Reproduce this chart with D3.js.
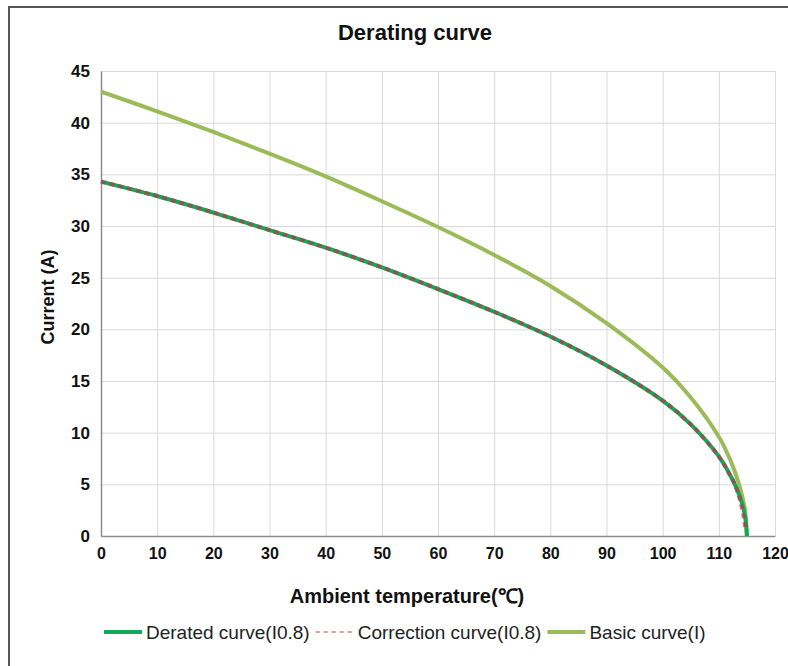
<!DOCTYPE html>
<html>
<head>
<meta charset="utf-8">
<script src="https://cdn.jsdelivr.net/npm/d3@7"></script>
<style>
  body { margin: 0; background: #fff; }
  text { font-family: Arial, "Liberation Sans", sans-serif; }
</style>
</head>
<body>
<div id="chart"></div>
<script>
// Data
var xTicks = [0, 10, 20, 30, 40, 50, 60, 70, 80, 90, 100, 110, 120];
var yTicks = [0, 5, 10, 15, 20, 25, 30, 35, 40, 45];

var basicTemp = [0, 10, 20, 30, 40, 50, 60, 70, 80, 90, 100, 105, 110, 112, 113, 114, 114.6, 115];
var basicCurrent = [43.0, 41.1, 39.1, 37.0, 34.8, 32.4, 29.9, 27.2, 24.2, 20.6, 16.3, 13.4, 9.6, 7.4, 6.0, 4.2, 2.7, 0];

var deratedTemp = [0, 10, 20, 30, 40, 50, 60, 70, 80, 90, 100, 105, 110, 112, 113, 114, 114.7, 115];
var deratedCurrent = [34.3, 32.9, 31.3, 29.6, 27.9, 26.0, 23.9, 21.7, 19.3, 16.5, 13.1, 10.8, 7.7, 5.9, 4.8, 3.4, 1.8, 0];

var correctionTemp = [0, 10, 20, 30, 40, 50, 60, 70, 80, 90, 100, 105, 110, 112, 112.6, 113.5, 114.1, 114.5, 114.7];
var correctionCurrent = [34.3, 32.9, 31.3, 29.6, 27.9, 26.0, 23.9, 21.7, 19.3, 16.5, 13.1, 10.8, 7.7, 5.9, 5.3, 4.0, 2.7, 1.6, 0.8];

var seriesNames = ["Derated curve(I0.8)", "Correction curve(I0.8)", "Basic curve(I)"];

var svgWidth = 788;
var svgHeight = 666;
var margin = { top: 71, right: 13, bottom: 130, left: 101 };
var width = svgWidth - margin.left - margin.right;
var height = svgHeight - margin.top - margin.bottom;

var svg = d3.select("#chart")
  .append("svg")
  .attr("width", svgWidth)
  .attr("height", svgHeight);

// outer frame
svg.append("rect")
  .attr("x", 9)
  .attr("y", 7)
  .attr("width", 820)
  .attr("height", 700)
  .attr("fill", "none")
  .attr("stroke", "#555")
  .attr("stroke-width", 2);

var chartGroup = svg.append("g")
  .attr("transform", `translate(${margin.left}, ${margin.top})`);

// scales
var xScale = d3.scaleLinear().domain([0, 120]).range([0, width]);
var yScale = d3.scaleLinear().domain([0, 45]).range([height, 0]);

// grid lines
chartGroup.append("g")
  .call(d3.axisLeft(yScale).tickValues(yTicks).tickSize(-width).tickFormat(""))
  .call(g => g.select(".domain").remove())
  .call(g => g.selectAll("line").attr("stroke", "#d9d9d9"));
chartGroup.append("g")
  .attr("transform", `translate(0, ${height})`)
  .call(d3.axisBottom(xScale).tickValues(xTicks).tickSize(-height).tickFormat(""))
  .call(g => g.select(".domain").remove())
  .call(g => g.selectAll("line").attr("stroke", "#d9d9d9"));

// axes
var bottomAxis = d3.axisBottom(xScale).tickValues(xTicks).tickSize(0).tickPadding(12);
var leftAxis = d3.axisLeft(yScale).tickValues(yTicks).tickSize(0).tickPadding(11);

chartGroup.append("g")
  .attr("transform", `translate(0, ${height})`)
  .call(bottomAxis)
  .call(g => g.select(".domain").attr("stroke", "#8c8c8c").attr("stroke-width", 1.5))
  .call(g => g.selectAll("text")
    .attr("font-size", "16px").attr("font-weight", "bold").attr("fill", "#111")
    .attr("font-family", "Arial, 'Liberation Sans', sans-serif"));

chartGroup.append("g")
  .call(leftAxis)
  .call(g => g.select(".domain").attr("stroke", "#8c8c8c").attr("stroke-width", 1.5))
  .call(g => g.selectAll("text")
    .attr("font-size", "17px").attr("font-weight", "bold").attr("fill", "#111")
    .attr("font-family", "Arial, 'Liberation Sans', sans-serif"));

// lines
var line = d3.line()
  .x(d => xScale(d[0]))
  .y(d => yScale(d[1]))
  .curve(d3.curveCatmullRom.alpha(0.5));

var basicData = d3.zip(basicTemp, basicCurrent);
var deratedData = d3.zip(deratedTemp, deratedCurrent);
var correctionData = d3.zip(correctionTemp, correctionCurrent);

chartGroup.append("path")
  .datum(basicData)
  .attr("d", line)
  .attr("fill", "none")
  .attr("stroke", "#9bbb59")
  .attr("stroke-width", 4);

chartGroup.append("path")
  .datum(deratedData)
  .attr("d", line)
  .attr("fill", "none")
  .attr("stroke", "#12a85a")
  .attr("stroke-width", 4);

chartGroup.append("path")
  .datum(correctionData)
  .attr("d", line)
  .attr("fill", "none")
  .attr("stroke", "#b03c46")
  .attr("stroke-width", 4)
  .attr("stroke-opacity", 0.7)
  .attr("stroke-dasharray", "5,4");

// title and axis labels
svg.append("text")
  .attr("x", 415)
  .attr("y", 40)
  .attr("text-anchor", "middle")
  .attr("font-size", "22px")
  .attr("font-weight", "bold")
  .attr("fill", "#111")
  .text("Derating curve");

svg.append("text")
  .attr("x", 407)
  .attr("y", 603)
  .attr("text-anchor", "middle")
  .attr("font-size", "20px")
  .attr("font-weight", "bold")
  .attr("fill", "#111")
  .text("Ambient temperature(℃)");

svg.append("text")
  .attr("transform", "translate(54, 297) rotate(-90)")
  .attr("text-anchor", "middle")
  .attr("font-size", "18px")
  .attr("font-weight", "bold")
  .attr("fill", "#111")
  .text("Current (A)");

// legend
var legendColors = ["#12a85a", "#d9a0a0", "#9bbb59"];
var legendDash = [null, "4,4", null];
var legend = svg.append("g").attr("transform", "translate(104, 632)");
var lx = 0;
seriesNames.forEach(function(name, i) {
  legend.append("line")
    .attr("x1", lx).attr("x2", lx + 38)
    .attr("y1", 0).attr("y2", 0)
    .attr("stroke", legendColors[i])
    .attr("stroke-width", i === 1 ? 2 : 4)
    .attr("stroke-dasharray", legendDash[i]);
  var t = legend.append("text")
    .attr("x", lx + 42)
    .attr("y", 6.5)
    .attr("font-size", "19px")
    .attr("fill", "#222")
    .text(name);
  lx += 42 + t.node().getComputedTextLength() + 6;
});
</script>
</body>
</html>
